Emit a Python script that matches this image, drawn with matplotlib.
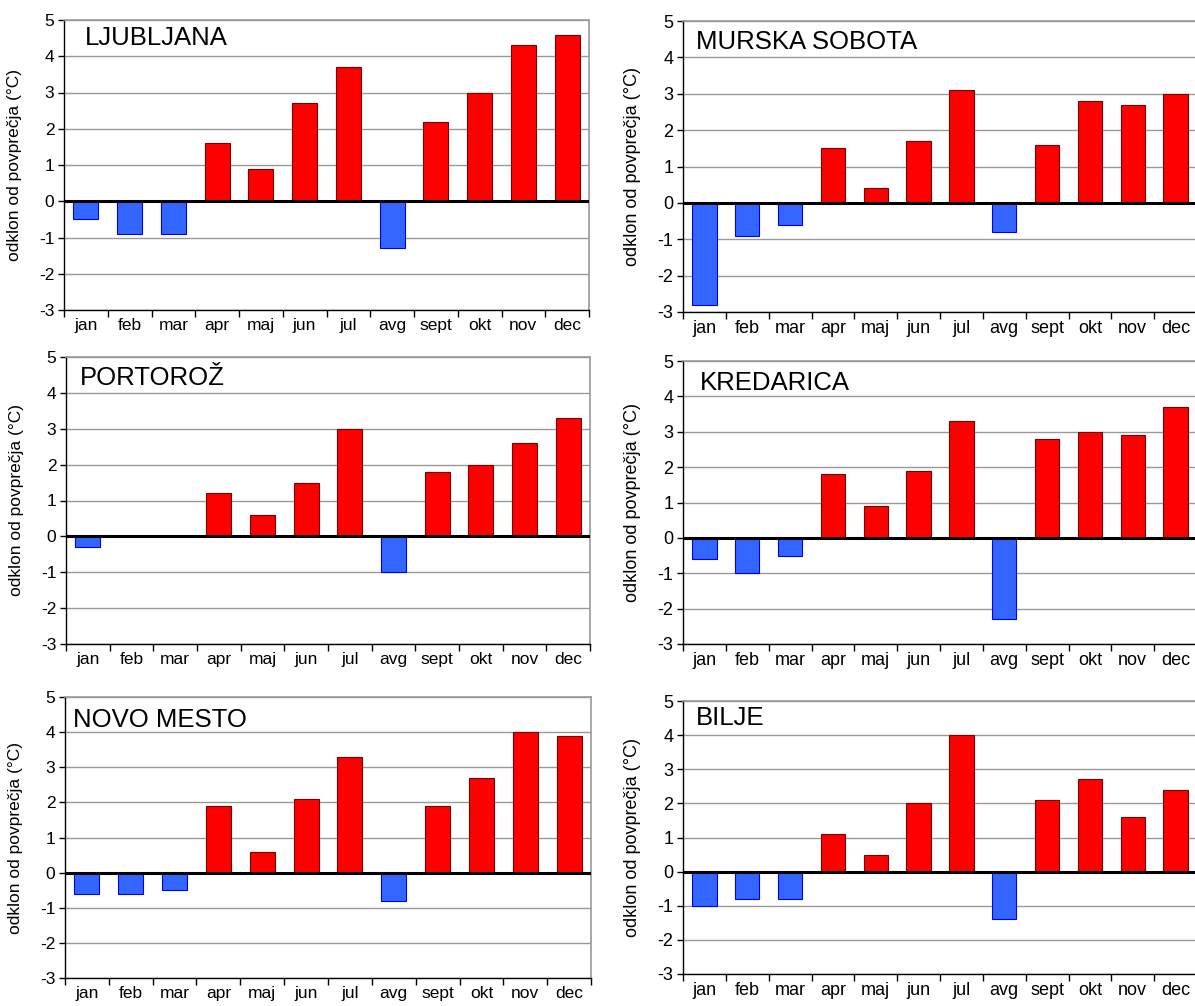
"""
Monthly temperature deviation from the long-term average, six Slovenian stations.
"""
import numpy as np
import matplotlib
matplotlib.use("Agg")
import matplotlib.pyplot as plt

plt.rcParams['font.family'] = ['Liberation Sans', 'DejaVu Sans']
plt.rcParams['axes.unicode_minus'] = False

months = ["jan", "feb", "mar", "apr", "maj", "jun", "jul", "avg", "sept", "okt", "nov", "dec"]
stations = ["LJUBLJANA", "MURSKA SOBOTA", "PORTOROŽ", "KREDARICA", "NOVO MESTO", "BILJE"]

ljubljana = [-0.5, -0.9, -0.9, 1.6, 0.9, 2.7, 3.7, -1.3, 2.2, 3.0, 4.3, 4.6]
murska_sobota = [-2.8, -0.9, -0.6, 1.5, 0.4, 1.7, 3.1, -0.8, 1.6, 2.8, 2.7, 3.0]
portoroz = [-0.3, 0.0, 0.0, 1.2, 0.6, 1.5, 3.0, -1.0, 1.8, 2.0, 2.6, 3.3]
kredarica = [-0.6, -1.0, -0.5, 1.8, 0.9, 1.9, 3.3, -2.3, 2.8, 3.0, 2.9, 3.7]
novo_mesto = [-0.6, -0.6, -0.5, 1.9, 0.6, 2.1, 3.3, -0.8, 1.9, 2.7, 4.0, 3.9]
bilje = [-1.0, -0.8, -0.8, 1.1, 0.5, 2.0, 4.0, -1.4, 2.1, 2.7, 1.6, 2.4]
values = [ljubljana, murska_sobota, portoroz, kredarica, novo_mesto, bilje]

W, H = 1195, 1006
# axes boxes in pixels: left, right, top, bottom
boxes = [
    (64, 589, 20, 310),
    (683, 1197, 21, 312),
    (66, 590, 357, 644),
    (683, 1197, 361, 644),
    (65, 591, 697, 978),
    (683, 1197, 701, 974),
]
# title offsets from the top-left corner of the axes, in pixels
title_off = [(21, 18), (13, 21), (14, 21), (17, 22), (8, 23), (13, 17)]

fig = plt.figure(figsize=(W / 100, H / 100), dpi=100)

for i, (name, vals) in enumerate(zip(stations, values)):
    l, r, t, b = boxes[i]
    ax = fig.add_axes([l / W, 1 - b / H, (r - l) / W, (b - t) / H])
    fs = 12.5 if i % 2 == 0 else 13
    vals = np.array(vals)
    x = np.arange(len(months))
    pos = vals >= 0
    ax.bar(x[pos], vals[pos], width=0.57, color="#FF0000", edgecolor="#7a0000",
           linewidth=0.8, zorder=3)
    ax.bar(x[~pos], vals[~pos], width=0.57, color="#3366FF", edgecolor="#0000EE",
           linewidth=0.8, zorder=3)
    ax.axhline(0, color="black", linewidth=2.2, zorder=4)

    ax.set_xlim(-0.5, 11.5)
    ax.set_ylim(-3, 5)
    ax.set_yticks(range(-3, 6))
    ax.yaxis.grid(True, color="#999999", linewidth=1.0, zorder=0)
    ax.set_axisbelow(True)

    ax.set_xticks(x)
    ax.set_xticklabels(months, fontsize=fs)
    ax.set_xticks(np.arange(-0.5, 12, 1), minor=True)
    ax.tick_params(axis="x", which="major", length=0, pad=6)
    ax.tick_params(axis="x", which="minor", length=5, width=1, direction="out", color="black")
    ax.tick_params(axis="y", length=4, width=1, direction="out", labelsize=fs, pad=3)

    for side in ["top", "right"]:
        ax.spines[side].set_color("#999999")
        ax.spines[side].set_linewidth(1.2)
    for side in ["left", "bottom"]:
        ax.spines[side].set_color("black")
        ax.spines[side].set_linewidth(1.0)

    ax.set_ylabel("odklon od povprečja (°C)", fontsize=fs)
    ax.yaxis.set_label_coords(-42 / (r - l), 0.5)

    dx, dy = title_off[i]
    ax.annotate(name, xy=(0, 1), xycoords="axes fraction", xytext=(dx, -dy),
                textcoords="offset pixels", ha="left", va="center", fontsize=18.5)

fig.savefig("out.png", dpi=100)
